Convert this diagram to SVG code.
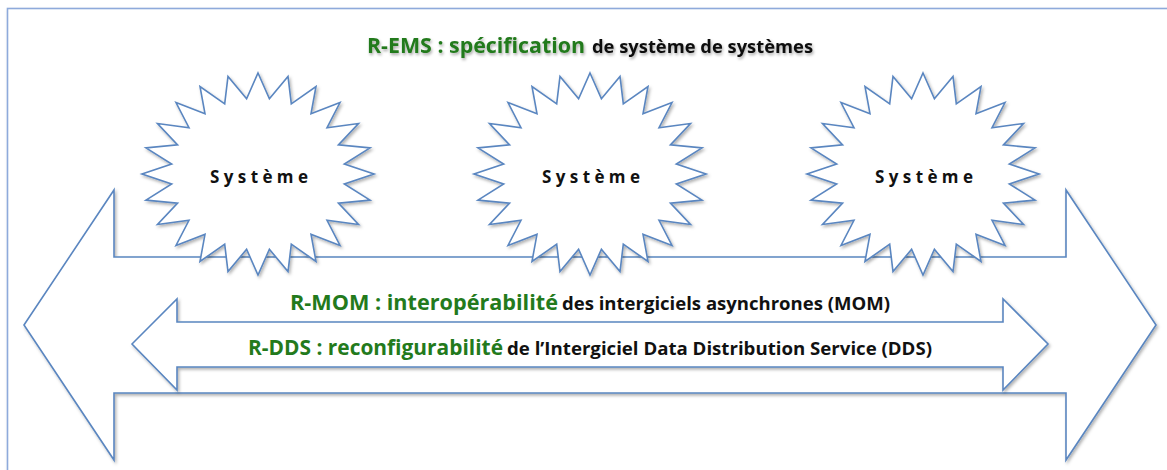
<svg xmlns="http://www.w3.org/2000/svg" width="1167" height="470" viewBox="0 0 1167 470">
  <style>
    .shape { fill: #ffffff; stroke: #5a86c0; stroke-width: 1.6; stroke-linejoin: miter; }
    .frame { fill: #ffffff; stroke: #8eaadb; stroke-width: 1.6; }
    .green { font-family: "Open Sans", "Liberation Sans", sans-serif; font-weight: 700; fill: #237a1c; font-size: 21px; }
    .black { font-family: "Open Sans", "Liberation Sans", sans-serif; font-weight: 700; fill: #111111; font-size: 17px; }
    .sys { font-family: "Open Sans", "Liberation Sans", sans-serif; font-weight: 700; fill: #111111; font-size: 17px; text-anchor: middle; }
  </style>
  <defs>
    <filter id="sh" x="-10%" y="-10%" width="120%" height="130%">
      <feDropShadow dx="1.5" dy="2" stdDeviation="1.5" flood-color="#000000" flood-opacity="0.3"/>
    </filter>
    <filter id="tsh" x="-5%" y="-30%" width="110%" height="160%">
      <feDropShadow dx="1" dy="2" stdDeviation="1.5" flood-color="#000000" flood-opacity="0.35"/>
    </filter>
    <path id="star" d="M0,-101 L11.4,-75.3 L30,-97.6 L33.3,-70.2 L58,-87.5 L53,-60.3 L82,-71.4 L69,-46.3 L100.5,-50.5 L80.4,-29.1 L112,-26.1 L86.3,-9.9 L116,0 L86.3,9.9 L112,26.1 L80.4,29.1 L100.5,50.5 L69,46.3 L82,71.4 L53,60.3 L58,87.5 L33.3,70.2 L30,97.6 L11.4,75.3 L0,101 L-11.4,75.3 L-30,97.6 L-33.3,70.2 L-58,87.5 L-53,60.3 L-82,71.4 L-69,46.3 L-100.5,50.5 L-80.4,29.1 L-112,26.1 L-86.3,9.9 L-116,0 L-86.3,-9.9 L-112,-26.1 L-80.4,-29.1 L-100.5,-50.5 L-69,-46.3 L-82,-71.4 L-53,-60.3 L-58,-87.5 L-33.3,-70.2 L-30,-97.6 L-11.4,-75.3 Z"/>
  </defs>

  <rect x="0" y="0" width="1167" height="470" fill="#ffffff"/>
  <g id="frame">
    <rect class="frame" x="7.5" y="8.5" width="1200" height="500" filter="url(#sh)"/>
  </g>

  <g id="connectors">
    <path id="arrow-ems" class="shape" filter="url(#sh)" d="M24,325 L114,190 L114,257 L1066,257 L1066,190 L1156,325 L1066,460 L1066,393 L114,393 L114,460 Z"/>
    <path id="arrow-mom" class="shape" filter="url(#sh)" d="M132,344 L177,299 L177,322 L1003,322 L1003,299 L1048,344 L1003,390 L1003,367 L177,367 L177,390 Z"/>
  </g>

  <g id="systeme1">
    <use href="#star" class="shape" filter="url(#sh)" transform="translate(258,174)"/>
    <text class="sys" x="259" y="183" textLength="98">Système</text>
  </g>
  <g id="systeme2">
    <use href="#star" class="shape" filter="url(#sh)" transform="translate(590,174)"/>
    <text class="sys" x="591" y="183" textLength="98">Système</text>
  </g>
  <g id="systeme3">
    <use href="#star" class="shape" filter="url(#sh)" transform="translate(923,174)"/>
    <text class="sys" x="924" y="183" textLength="98">Système</text>
  </g>

  <g id="title" filter="url(#tsh)">
    <text class="green" x="367" y="53" textLength="218" lengthAdjust="spacingAndGlyphs">R-EMS : spécification</text>
    <text class="black" x="592" y="53" textLength="221" lengthAdjust="spacingAndGlyphs">de système de systèmes</text>
  </g>
  <g id="label-mom">
    <text class="green" x="290" y="310" textLength="268" lengthAdjust="spacingAndGlyphs">R-MOM : interopérabilité</text>
    <text class="black" x="562" y="310" textLength="328" lengthAdjust="spacingAndGlyphs">des intergiciels asynchrones (MOM)</text>
  </g>
  <g id="label-dds">
    <text class="green" x="248" y="355" textLength="255" lengthAdjust="spacingAndGlyphs">R-DDS : reconfigurabilité</text>
    <text class="black" x="507" y="355" textLength="425" lengthAdjust="spacingAndGlyphs">de l’Intergiciel Data Distribution Service (DDS)</text>
  </g>
</svg>
